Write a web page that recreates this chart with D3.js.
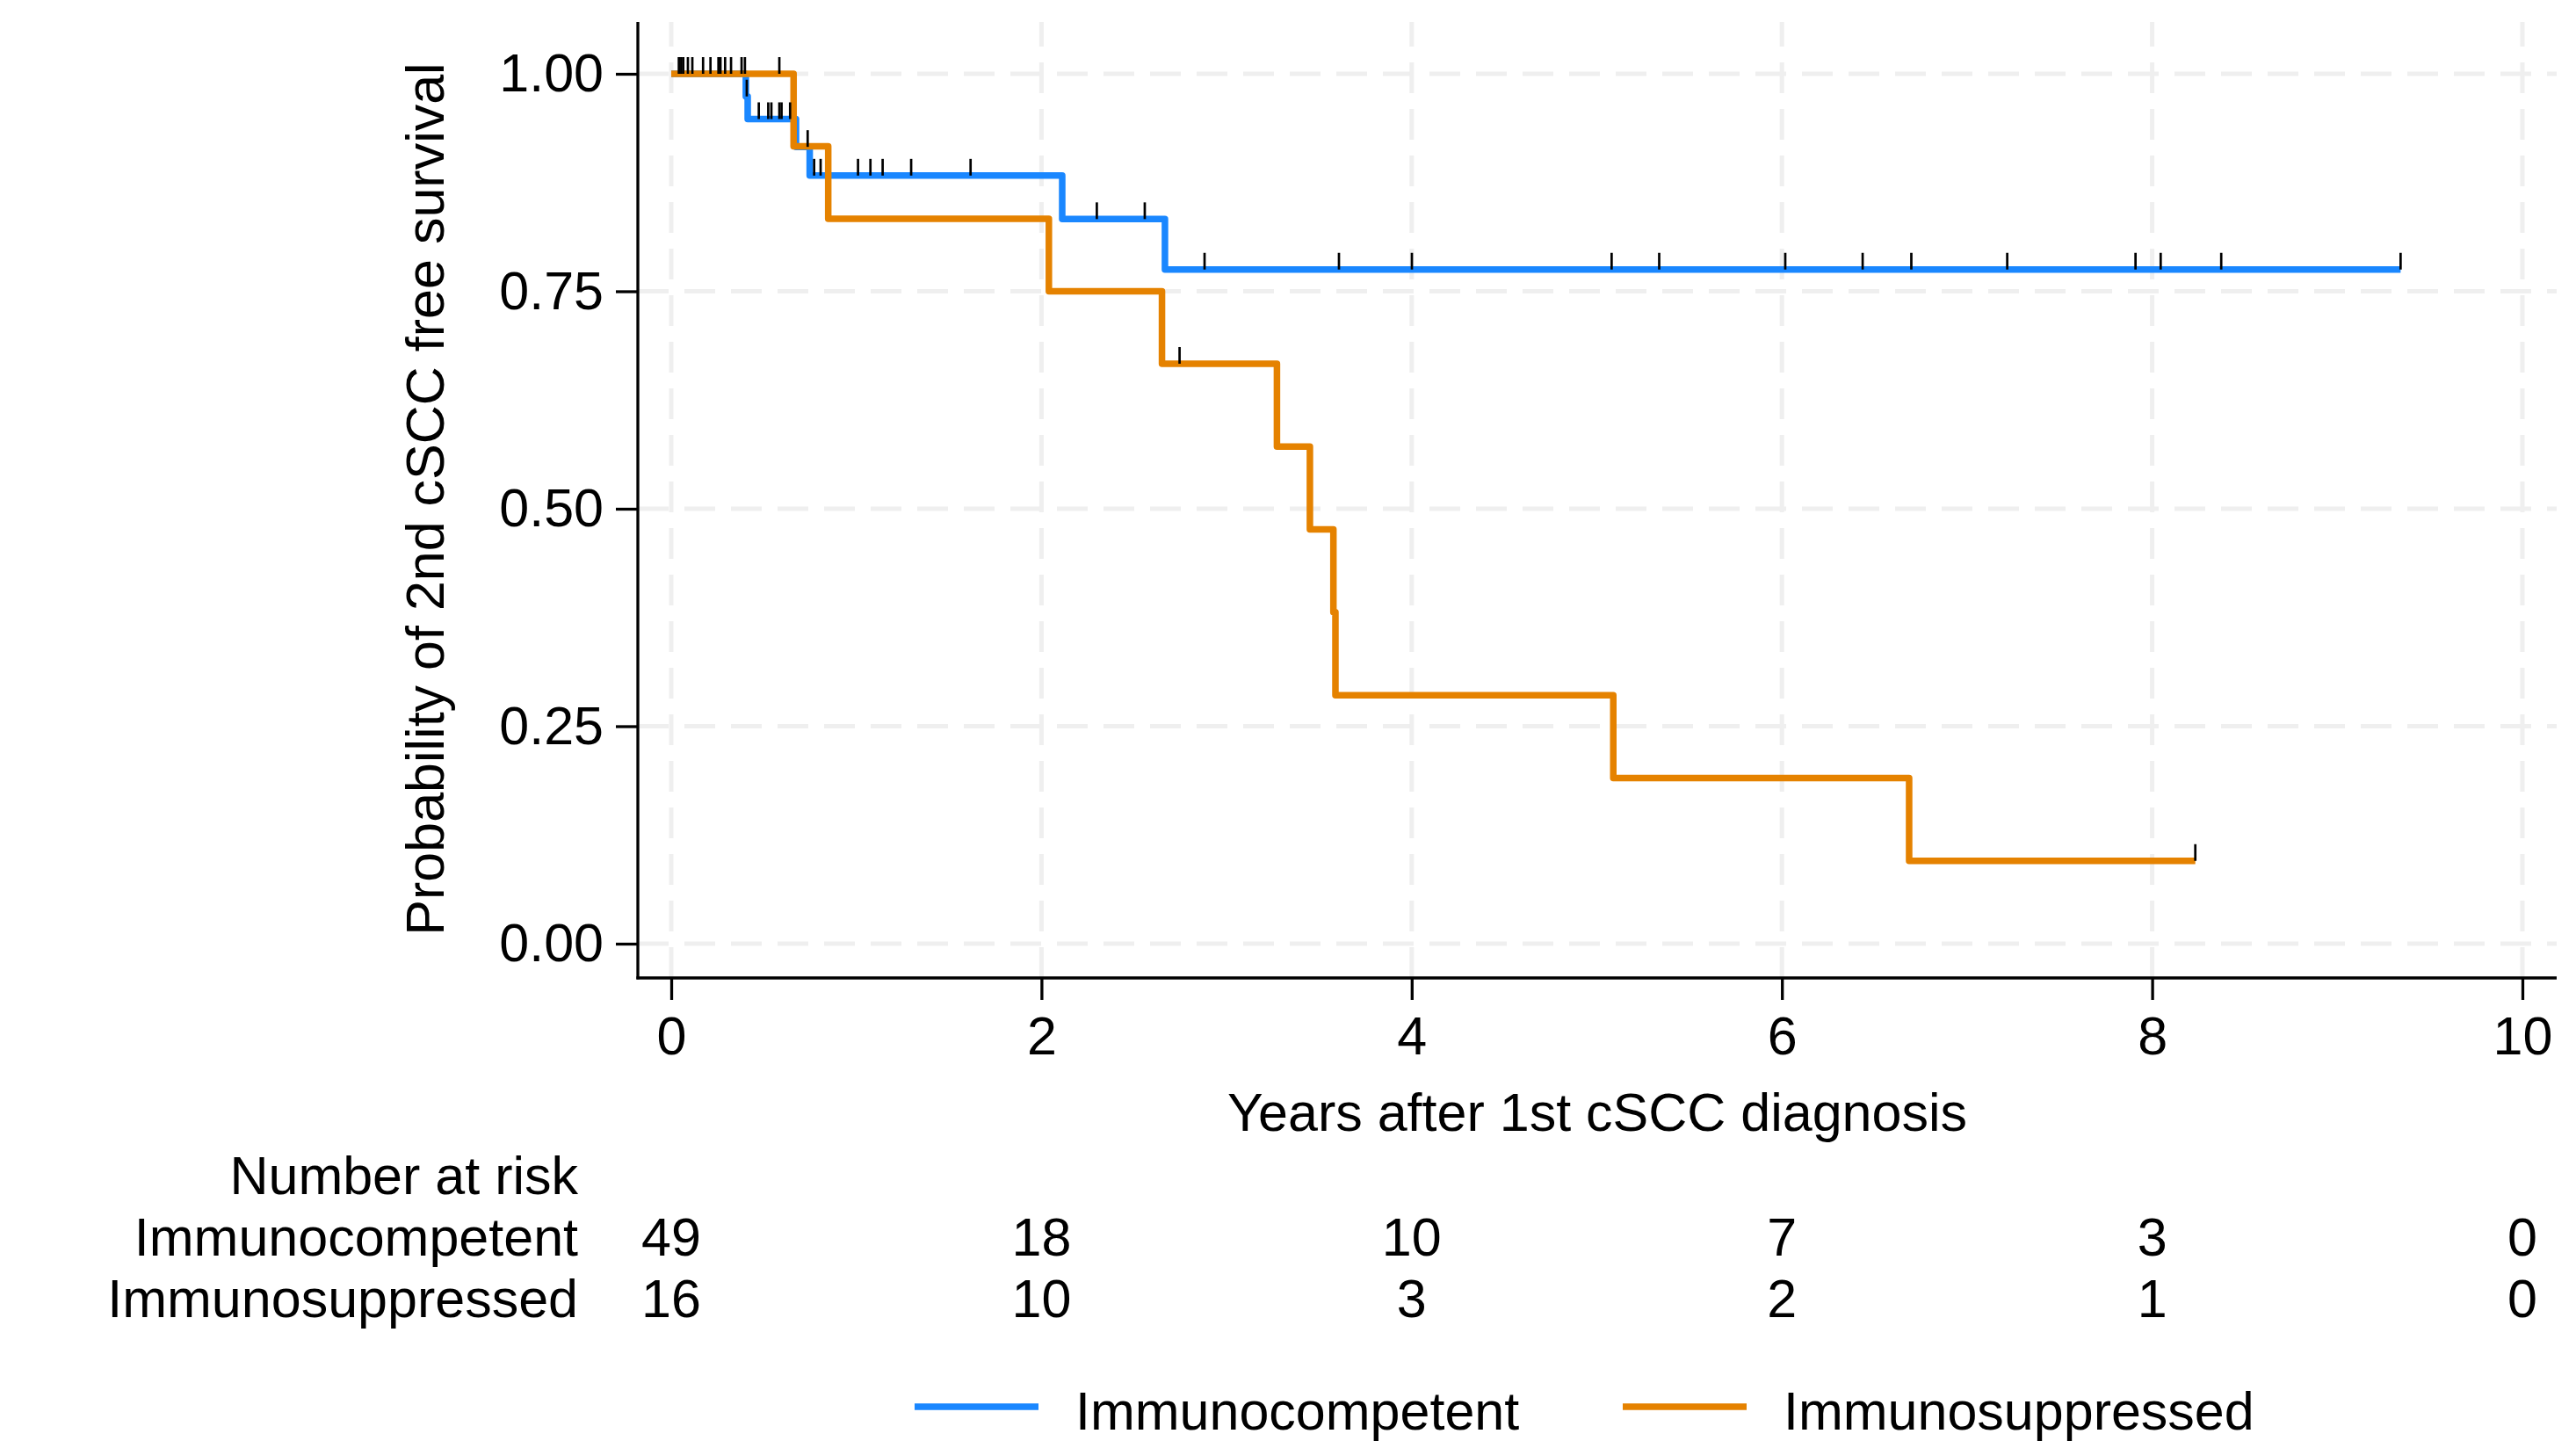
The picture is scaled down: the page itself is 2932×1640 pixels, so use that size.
<!DOCTYPE html>
<html>
<head>
<meta charset="utf-8">
<script src="https://cdn.jsdelivr.net/npm/d3@7"></script>
<style>
  body { margin: 0; background: #fff; }
  text { font-family: "Liberation Sans", Arial, Helvetica, sans-serif; fill: #000; }
</style>
</head>
<body>
<script>

// Kaplan-Meier step data (time in years, survival after the step)
var competentTimes = [0, 0.403, 0.413, 0.674, 0.748, 2.112, 2.667];
var competentSurv = [1, 0.974, 0.948, 0.916, 0.883, 0.833, 0.775];
var competentEnd = 9.342;
var competentCensor = [0.041, 0.054, 0.065, 0.114, 0.172, 0.255, 0.266, 0.291, 0.380, 0.398,
  0.408, 0.473, 0.524, 0.541, 0.584, 0.596, 0.642, 0.737, 0.772, 0.807, 1.009, 1.076, 1.142,
  1.296, 1.617, 2.299, 2.558, 2.881, 3.607, 4.001, 5.080, 5.337, 6.018, 6.436, 6.699, 7.217,
  7.910, 8.046, 8.373, 9.342];

var suppressedTimes = [0, 0.661, 0.848, 2.040, 2.651, 3.272, 3.450, 3.577, 3.588, 5.089, 6.687];
var suppressedSurv = [1, 0.9167, 0.8333, 0.75, 0.6667, 0.5714, 0.4762, 0.381, 0.2857, 0.1905, 0.0952];
var suppressedEnd = 8.233;
var suppressedCensor = [0.090, 0.212, 0.323, 0.584, 2.746, 8.233];

// axis ticks and number at risk table
var xTicks = [0, 2, 4, 6, 8, 10];
var yTicks = [0, 0.25, 0.5, 0.75, 1];
var groups = ["Immunocompetent", "Immunosuppressed"];
var atRiskCompetent = [49, 18, 10, 7, 3, 0];
var atRiskSuppressed = [16, 10, 3, 2, 1, 0];

var colors = ["#1a87ff", "#e58200"];

var svgWidth = 2932;
var svgHeight = 1640;

// plot frame
var frame = { left: 726, right: 2910, top: 25, bottom: 1113 };

var svg = d3.select("body")
  .append("svg")
  .attr("width", svgWidth)
  .attr("height", svgHeight);

svg.append("rect").attr("width", svgWidth).attr("height", svgHeight).attr("fill", "#fff");

var xScale = d3.scaleLinear().domain([0, 10]).range([764, 2871]);
var yScale = d3.scaleLinear().domain([0, 1]).range([1074, 84]);

// gridlines
var grid = svg.append("g");
grid.selectAll(".hgrid")
  .data(yTicks)
  .enter()
  .append("line")
  .attr("x1", frame.left)
  .attr("x2", frame.right)
  .attr("y1", d => yScale(d))
  .attr("y2", d => yScale(d))
  .attr("stroke", "#efefef")
  .attr("stroke-width", 5)
  .attr("stroke-dasharray", "35,18");

grid.selectAll(".vgrid")
  .data(xTicks)
  .enter()
  .append("line")
  .attr("x1", d => xScale(d))
  .attr("x2", d => xScale(d))
  .attr("y1", frame.bottom)
  .attr("y2", frame.top)
  .attr("stroke", "#efefef")
  .attr("stroke-width", 5)
  .attr("stroke-dasharray", "35,18");

// axes
var leftAxis = d3.axisLeft(yScale)
  .tickValues(yTicks)
  .tickFormat(d3.format(".2f"))
  .tickSize(25)
  .tickPadding(14);

var bottomAxis = d3.axisBottom(xScale)
  .tickValues(xTicks)
  .tickFormat(d3.format("d"))
  .tickSize(25)
  .tickPadding(19);

var yAxisG = svg.append("g")
  .attr("transform", `translate(${frame.left},0)`)
  .call(leftAxis);

var xAxisG = svg.append("g")
  .attr("transform", `translate(0,${frame.bottom})`)
  .call(bottomAxis);

[yAxisG, xAxisG].forEach(function(g) {
  g.select(".domain").remove();
  g.selectAll(".tick line").attr("stroke", "#000").attr("stroke-width", 3.3);
  g.selectAll(".tick text")
    .style("font-family", '"Liberation Sans", Arial, Helvetica, sans-serif')
    .style("font-size", "61px")
    .attr("fill", "#000");
});

svg.append("line")
  .attr("x1", frame.left).attr("x2", frame.left)
  .attr("y1", frame.top).attr("y2", frame.bottom + 1.6)
  .attr("stroke", "#000").attr("stroke-width", 3.3);

svg.append("line")
  .attr("x1", frame.left - 1.6).attr("x2", frame.right)
  .attr("y1", frame.bottom).attr("y2", frame.bottom)
  .attr("stroke", "#000").attr("stroke-width", 3.3);

// survival curves
function stepPoints(times, surv, end) {
  var pts = times.map((t, i) => [t, surv[i]]);
  pts.push([end, surv[surv.length - 1]]);
  return pts;
}

function survivalAt(times, surv, t) {
  var s = surv[0];
  for (var i = 0; i < times.length; i++) {
    if (times[i] <= t) s = surv[i];
  }
  return s;
}

var line = d3.line()
  .x(d => xScale(d[0]))
  .y(d => yScale(d[1]))
  .curve(d3.curveStepAfter);

var series = [
  { times: competentTimes, surv: competentSurv, end: competentEnd, censor: competentCensor },
  { times: suppressedTimes, surv: suppressedSurv, end: suppressedEnd, censor: suppressedCensor }
];

series.forEach(function(s, i) {
  svg.append("path")
    .datum(stepPoints(s.times, s.surv, s.end))
    .attr("d", line)
    .attr("fill", "none")
    .attr("stroke", colors[i])
    .attr("stroke-width", 7.5)
    .attr("stroke-linejoin", "round");
});

// censoring marks
series.forEach(function(s) {
  svg.append("g")
    .selectAll("line")
    .data(s.censor)
    .enter()
    .append("line")
    .attr("x1", d => xScale(d))
    .attr("x2", d => xScale(d))
    .attr("y1", d => yScale(survivalAt(s.times, s.surv, d)))
    .attr("y2", d => yScale(survivalAt(s.times, s.surv, d)) - 19)
    .attr("stroke", "#000")
    .attr("stroke-width", 2.7);
});

// axis titles
svg.append("text")
  .attr("x", 1818)
  .attr("y", 1287)
  .attr("text-anchor", "middle")
  .style("font-size", "61px")
  .text("Years after 1st cSCC diagnosis");

svg.append("text")
  .attr("transform", "translate(505,568) rotate(-90)")
  .attr("text-anchor", "middle")
  .style("font-size", "61px")
  .text("Probability of 2nd cSCC free survival");

// number at risk table
var tableX = 658;
svg.append("text")
  .attr("x", tableX)
  .attr("y", 1359)
  .attr("text-anchor", "end")
  .style("font-size", "61px")
  .text("Number at risk");

var riskRows = [atRiskCompetent, atRiskSuppressed];
riskRows.forEach(function(row, i) {
  var yRow = 1429 + i * 70;
  svg.append("text")
    .attr("x", tableX)
    .attr("y", yRow)
    .attr("text-anchor", "end")
    .style("font-size", "61px")
    .text(groups[i]);

  svg.append("g")
    .selectAll("text")
    .data(row)
    .enter()
    .append("text")
    .attr("x", (d, j) => xScale(xTicks[j]))
    .attr("y", yRow)
    .attr("text-anchor", "middle")
    .style("font-size", "61px")
    .text(d => d);
});

// legend
var legendItems = [
  { x: 1041, label: groups[0] },
  { x: 1847, label: groups[1] }
];
legendItems.forEach(function(item, i) {
  svg.append("line")
    .attr("x1", item.x)
    .attr("x2", item.x + 141)
    .attr("y1", 1601)
    .attr("y2", 1601)
    .attr("stroke", colors[i])
    .attr("stroke-width", 7.5);

  svg.append("text")
    .attr("x", item.x + 183)
    .attr("y", 1627)
    .style("font-size", "61px")
    .text(item.label);
});

</script>
</body>
</html>
